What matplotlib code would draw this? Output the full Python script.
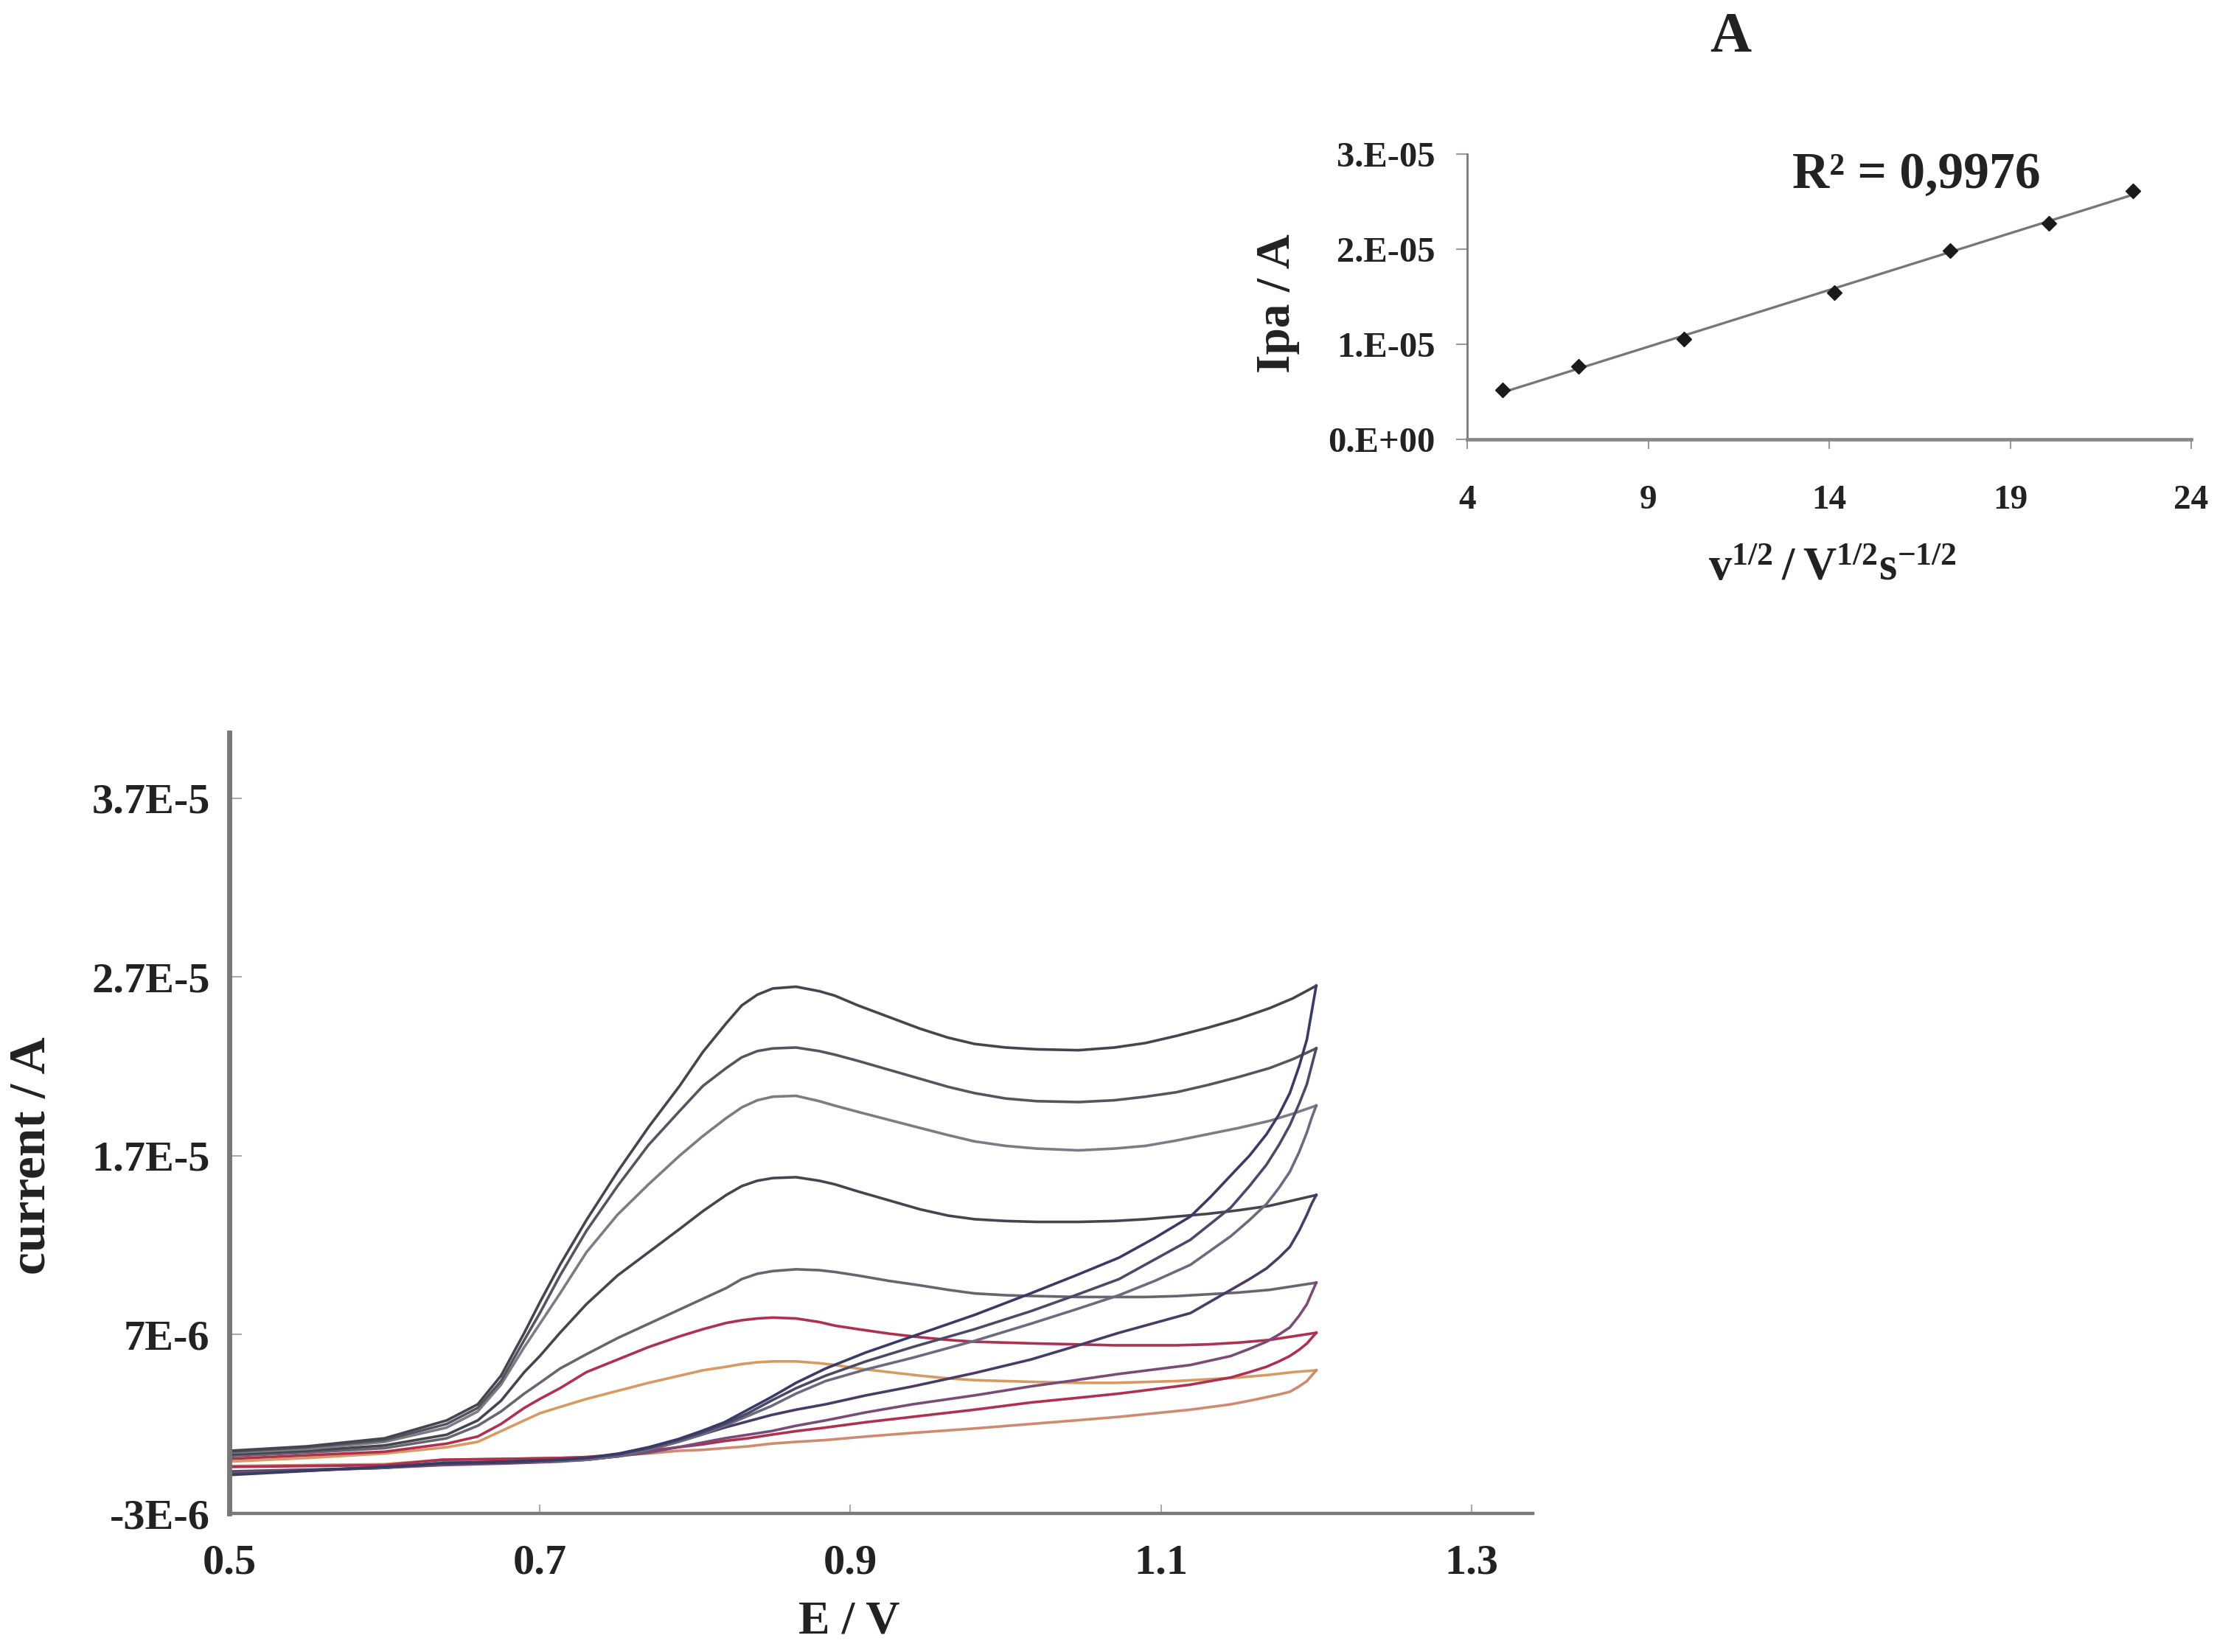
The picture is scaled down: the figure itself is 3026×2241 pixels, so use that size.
import matplotlib
matplotlib.use("Agg")
import matplotlib.pyplot as plt
import numpy as np

plt.rcParams['font.family'] = ['Liberation Serif', 'DejaVu Serif']
plt.rcParams['font.weight'] = 'bold'
plt.rcParams['axes.labelweight'] = 'bold'
plt.rcParams['mathtext.fontset'] = 'custom'
plt.rcParams['mathtext.bf'] = 'Liberation Serif:bold'
plt.rcParams['mathtext.rm'] = 'Liberation Serif:bold'

# Cyclic voltammograms: potential (V), current (microampere)
E_forward = [.5, .55, .6, .64, .66, .675, .69, .70, .713, .73, .75, .77, .79, .805, .82, .83, .84, .85, .865, .88, .89,
             .905, .925, .945, .963, .98, 1.0, 1.02, 1.047, 1.07, 1.09, 1.11, 1.13, 1.15, 1.17, 1.185, 1.2]
E_reverse = [1.2, 1.197, 1.194, 1.189, 1.183, 1.176, 1.168, 1.157, 1.145, 1.132, 1.119, 1.096, 1.073, 1.045, 1.016, .98,
             .94, .91, .884, .865, .849, .834, .819, .804, .789, .77, .751, .73, .713, .68, .637, .6, .5]

fwd1 = [.5, .75, 1.2, 2.2, 3.1, 4.7, 7.1, 8.8, 10.9, 13.4, 16.1, 18.6, 20.9, 22.8, 24.4, 25.4, 26.0, 26.35, 26.45, 26.2, 25.95,
        25.4, 24.75, 24.1, 23.6, 23.25, 23.05, 22.95, 22.9, 23.05, 23.3, 23.7, 24.15, 24.65, 25.25, 25.8, 26.5]
fwd2 = [.45, .7, 1.1, 2.0, 2.9, 4.4, 6.7, 8.2, 10.3, 12.8, 15.3, 17.6, 19.5, 20.9, 21.9, 22.5, 22.85, 23.0, 23.05, 22.85, 22.65,
        22.3, 21.8, 21.3, 20.85, 20.5, 20.2, 20.05, 20.0, 20.1, 20.3, 20.55, 20.95, 21.4, 21.9, 22.4, 23.0]
fwd3 = [.4, .6, 1.0, 1.8, 2.7, 4.2, 6.3, 7.6, 9.3, 11.6, 13.7, 15.4, 17.0, 18.1, 19.1, 19.7, 20.1, 20.3, 20.35, 20.05, 19.8,
        19.45, 19.0, 18.55, 18.15, 17.8, 17.55, 17.4, 17.3, 17.4, 17.55, 17.85, 18.2, 18.55, 18.95, 19.35, 19.8]
fwd4 = [.3, .5, .8, 1.4, 2.2, 3.3, 4.9, 5.8, 7.1, 8.7, 10.3, 11.6, 12.9, 13.9, 14.8, 15.3, 15.6, 15.75, 15.8, 15.6, 15.4,
        15.0, 14.5, 14.0, 13.65, 13.45, 13.35, 13.3, 13.3, 13.35, 13.45, 13.6, 13.75, 13.95, 14.2, 14.5, 14.8]
fwd5 = [.2, .4, .65, 1.2, 1.9, 2.7, 3.7, 4.3, 5.1, 5.9, 6.8, 7.6, 8.4, 9.0, 9.6, 10.1, 10.4, 10.55, 10.65, 10.6, 10.5,
        10.3, 10.0, 9.75, 9.5, 9.3, 9.2, 9.15, 9.1, 9.1, 9.1, 9.15, 9.25, 9.35, 9.5, 9.7, 9.9]
fwd6 = [.05, .25, .45, .9, 1.3, 2.0, 2.9, 3.4, 4.0, 4.9, 5.6, 6.3, 6.9, 7.3, 7.65, 7.8, 7.9, 7.95, 7.9, 7.7, 7.5,
        7.3, 7.05, 6.85, 6.7, 6.6, 6.55, 6.5, 6.45, 6.4, 6.4, 6.4, 6.45, 6.55, 6.7, 6.9, 7.1]
fwd7 = [-.1, .1, .35, .7, 1.0, 1.6, 2.2, 2.6, 2.95, 3.4, 3.85, 4.3, 4.7, 5.0, 5.2, 5.35, 5.45, 5.5, 5.5, 5.4, 5.3,
        5.1, 4.9, 4.7, 4.55, 4.45, 4.4, 4.35, 4.3, 4.3, 4.35, 4.4, 4.5, 4.6, 4.75, 4.9, 5.0]

rev1 = [26.5, 25.0, 23.5, 22.0, 20.5, 19.3, 18.2, 17.0, 15.9, 14.7, 13.6, 12.4, 11.3, 10.3, 9.3, 8.1,
        6.9, 6.0, 5.1, 4.3, 3.5, 2.8, 2.1, 1.6, 1.15, .7, .35, .1, 0, -.1, -.2, -.4, -.85]
rev2 = [23.0, 22.0, 21.0, 19.9, 18.7, 17.6, 16.5, 15.3, 14.1, 13.2, 12.3, 11.2, 10.1, 9.2, 8.3, 7.3,
        6.3, 5.5, 4.7, 4.0, 3.3, 2.6, 2.0, 1.5, 1.1, .65, .3, .1, 0, -.1, -.2, -.4, -.8]
rev3 = [19.8, 19.1, 18.3, 17.2, 16.1, 15.2, 14.3, 13.4, 12.5, 11.7, 10.9, 10.0, 9.2, 8.4, 7.6, 6.65,
        5.7, 5.05, 4.4, 3.7, 3.0, 2.45, 1.9, 1.4, 1.0, .55, .2, .0, -.05, -.1, -.15, -.45, -.75]
rev4 = [14.8, 14.3, 13.7, 12.8, 11.9, 11.3, 10.7, 10.1, 9.5, 8.85, 8.2, 7.65, 7.1, 6.35, 5.6, 4.85,
        4.1, 3.6, 3.1, 2.8, 2.5, 2.15, 1.8, 1.4, 1.0, .55, .2, .0, -.05, -.15, -.2, -.45, -.7]
rev5 = [9.9, 9.3, 8.7, 8.05, 7.4, 7.0, 6.6, 6.2, 5.8, 5.55, 5.3, 5.05, 4.8, 4.45, 4.1, 3.6,
        3.1, 2.65, 2.2, 1.9, 1.6, 1.4, 1.2, .95, .7, .4, .2, .0, -.1, -.2, -.3, -.45, -.65]
rev6 = [7.1, 6.8, 6.5, 6.15, 5.8, 5.5, 5.2, 4.9, 4.6, 4.4, 4.2, 3.95, 3.7, 3.45, 3.2, 2.8,
        2.4, 2.1, 1.8, 1.6, 1.4, 1.2, 1.05, .85, .7, .5, .3, .15, .1, .05, 0, -.3, -.4]
rev7 = [5.0, 4.7, 4.4, 4.1, 3.8, 3.65, 3.5, 3.3, 3.1, 2.95, 2.8, 2.6, 2.4, 2.2, 2.0, 1.75,
        1.5, 1.3, 1.1, 1.0, .9, .75, .65, .55, .5, .35, .25, .15, .1, .05, 0, -.25, -.35]

forward_sets = [fwd7, fwd6, fwd5, fwd4, fwd3, fwd2, fwd1]
reverse_sets = [rev7, rev6, rev5, rev4, rev3, rev2, rev1]
forward_colors = ['#d89a60', '#b03050', '#6a6470', '#45454f', '#7c7c84', '#55555f', '#45454f']
reverse_colors = ['#d08a70', '#b03050', '#7a4a78', '#4a3a66', '#6a6a80', '#4a4a68', '#3a3a66']

x_ticks = [.5, .7, .9, 1.1, 1.3]
x_labels = ['0.5', '0.7', '0.9', '1.1', '1.3']
y_ticks = [-3, 7, 17, 27, 37]
y_labels = ['-3E-6', '7E-6', '1.7E-5', '2.7E-5', '3.7E-5']

# Randles-Sevcik inset
sqrt_v = [4.98, 7.08, 9.98, 14.15, 17.34, 20.06, 22.39]
ipa = [.519e-5, .77e-5, 1.054e-5, 1.54e-5, 1.986e-5, 2.27e-5, 2.614e-5]
inset_x_ticks = [4, 9, 14, 19, 24]
inset_y_ticks = [0, 1e-5, 2e-5, 3e-5]
inset_y_labels = ['0.E+00', '1.E-05', '2.E-05', '3.E-05']

W, H = 3026, 2241
fig = plt.figure(figsize=(W / 100, H / 100), dpi=100, facecolor='white')

def box(l, t, r, b):
    return [l / W, 1 - b / H, (r - l) / W, (b - t) / H]

ax = fig.add_axes(box(311, 994, 2079, 2053))
for fw, rv, cf, cr in zip(forward_sets, reverse_sets, forward_colors, reverse_colors):
    ax.plot(E_forward, np.array(fw) * 1e-6, color=cf, lw=2.6, solid_joinstyle='round')
    ax.plot(E_reverse, np.array(rv) * 1e-6, color=cr, lw=2.6, solid_joinstyle='round')
ax.set_xlim(.5, 1.3395)
ax.set_ylim(-3e-6, 4.065e-5)
ax.set_xticks(x_ticks, x_labels)
ax.set_yticks(np.array(y_ticks) * 1e-6, y_labels)
ax.tick_params(axis='x', direction='in', length=9, width=1.5, color='#aaaaaa', labelsize=42, pad=30, labelcolor='#222222')
ax.tick_params(axis='y', direction='in', length=12, width=1.5, color='#aaaaaa', labelsize=42, pad=19, labelcolor='#222222')
for s in ('top', 'right'):
    ax.spines[s].set_visible(False)
ax.spines['left'].set_linewidth(5)
ax.spines['left'].set_color('#777777')
ax.spines['bottom'].set_linewidth(3.2)
ax.spines['bottom'].set_color('#777777')
ax.set_xlabel('E / V', fontsize=46, color='#222222', ha='center', va='center')
ax.xaxis.set_label_coords(1152 / W, 1 - 2201 / H, transform=fig.transFigure)
ax.set_ylabel('current / A', fontsize=50, color='#222222', ha='center', va='center')
ax.yaxis.set_label_coords(44 / W, 1 - 1568 / H, transform=fig.transFigure)

ins = fig.add_axes(box(1990, 209, 2972, 596))
coef = np.polyfit(sqrt_v, ipa, 1)
ins.plot(sqrt_v, np.polyval(coef, sqrt_v), color='#777777', lw=2.4)
ins.plot(sqrt_v, ipa, ls='none', marker='D', ms=10, color='#1a1a1a')
ins.set_xlim(4, 24)
ins.set_ylim(0, 3e-5)
ins.set_xticks(inset_x_ticks, [str(v) for v in inset_x_ticks])
ins.set_yticks(inset_y_ticks, inset_y_labels)
ins.tick_params(axis='x', direction='out', length=9, width=1.5, color='#999999', labelsize=34, pad=36, labelcolor='#222222')
ins.tick_params(axis='y', direction='out', length=11, width=1.5, color='#999999', labelsize=35, pad=20, labelcolor='#222222')
for s in ('top', 'right'):
    ins.spines[s].set_visible(False)
ins.spines['left'].set_linewidth(2)
ins.spines['left'].set_color('#777777')
ins.spines['bottom'].set_linewidth(3.4)
ins.spines['bottom'].set_color('#888888')
ins.set_xlabel(r'$\mathbf{v^{1/2}\,/\,V^{1/2}s^{-1/2}}$', fontsize=45, color='#222222', ha='center', va='center')
ins.xaxis.set_label_coords(2485 / W, 1 - 772 / H, transform=fig.transFigure)
ins.set_ylabel('Ipa / A', fontsize=47, color='#222222', ha='center', va='center')
ins.yaxis.set_label_coords(1733 / W, 1 - 412 / H, transform=fig.transFigure)
ins.text(16.4, 2.78e-5, 'R² = 0,9976', fontsize=50, color='#222222', ha='center', va='center')
fig.text(2347 / W, 1 - 52 / H, 'A', fontsize=56, color='#222222', ha='center', va='center')

fig.savefig('out.png', dpi=100, facecolor='white')
